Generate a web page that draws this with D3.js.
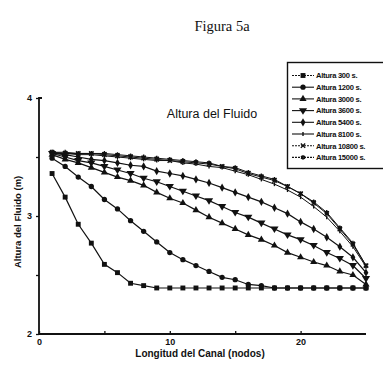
<!DOCTYPE html>
<html><head><meta charset="utf-8">
<script src="https://cdn.jsdelivr.net/npm/d3@7/dist/d3.min.js"></script>
<style>body{margin:0;background:#fff}svg{display:block}</style>
</head><body>
<script>
const nodes = d3.range(1, 26);
const seriesNames = ["Altura 300 s.","Altura 1200 s.","Altura 3000 s.","Altura 3600 s.","Altura 5400 s.","Altura 8100 s.","Altura 10800 s.","Altura 15000 s."];
const s300   = [3.36,3.16,2.93,2.77,2.59,2.52,2.43,2.41,2.39,2.39,2.39,2.39,2.39,2.39,2.39,2.39,2.39,2.39,2.39,2.39,2.39,2.39,2.39,2.39,2.39];
const s1200  = [3.49,3.42,3.33,3.25,3.14,3.06,2.96,2.87,2.78,2.69,2.63,2.58,2.53,2.48,2.46,2.42,2.41,2.39,2.39,2.39,2.39,2.39,2.39,2.39,2.39];
const s3000  = [3.52,3.48,3.45,3.41,3.37,3.33,3.30,3.26,3.20,3.15,3.11,3.05,2.99,2.94,2.89,2.84,2.80,2.75,2.69,2.65,2.61,2.58,2.53,2.50,2.42];
const s3600  = [3.53,3.50,3.47,3.45,3.42,3.39,3.36,3.32,3.29,3.25,3.21,3.17,3.13,3.08,3.03,2.99,2.94,2.89,2.84,2.80,2.75,2.69,2.64,2.58,2.47];
const s5400  = [3.53,3.52,3.50,3.48,3.47,3.45,3.43,3.42,3.38,3.36,3.34,3.31,3.28,3.24,3.20,3.16,3.12,3.07,3.02,2.95,2.89,2.82,2.74,2.65,2.52];
const s8100  = [3.53,3.53,3.52,3.52,3.51,3.50,3.49,3.48,3.47,3.47,3.45,3.44,3.42,3.41,3.38,3.35,3.31,3.27,3.22,3.16,3.08,2.99,2.87,2.74,2.57];
const s10800 = [3.54,3.53,3.53,3.53,3.52,3.51,3.50,3.49,3.48,3.47,3.46,3.45,3.44,3.42,3.40,3.36,3.33,3.30,3.25,3.19,3.11,3.02,2.89,2.76,2.58];
const s15000 = [3.54,3.54,3.53,3.53,3.53,3.52,3.51,3.50,3.49,3.48,3.47,3.46,3.45,3.42,3.41,3.37,3.34,3.31,3.25,3.19,3.12,3.03,2.90,2.77,2.58];
const allSeries = [s300,s1200,s3000,s3600,s5400,s8100,s10800,s15000];
const xTicks = [0,10,20];
const yTicks = [2,3,4];

const W = 383, H = 371;
const svg = d3.select("body").append("svg").attr("width", W).attr("height", H);
const x = d3.scaleLinear().domain([0,25]).range([39,366]);
const y = d3.scaleLinear().domain([2,4]).range([334,98]);
const ink = "#111";
const sans = "'Liberation Sans', Arial, sans-serif";

// title
svg.append("text").attr("x", 222).attr("y", 31).attr("text-anchor","middle")
  .attr("font-family","'Liberation Serif', 'Times New Roman', serif").attr("font-size",14.5)
  .attr("fill", ink).text("Figura 5a");

// axes
const gy = svg.append("g").attr("transform", `translate(${x(0)},0)`)
  .call(d3.axisLeft(y).tickValues([2,2.5,3,3.5,4]).tickSize(3).tickFormat(d => yTicks.includes(d) ? d : ""));
const gx = svg.append("g").attr("transform", `translate(0,${y(2)})`)
  .call(d3.axisBottom(x).tickValues([0,5,10,15,20]).tickSize(-3).tickFormat(d => xTicks.includes(d) ? d : ""));
[gx, gy].forEach(g => {
  g.select(".domain").attr("stroke", ink).attr("stroke-width", 1.8);
  g.selectAll(".tick line").attr("stroke", ink).attr("stroke-width", 1.3);
  g.selectAll(".tick text").attr("font-family", sans).attr("font-weight","bold").attr("font-size", 9).attr("fill", ink);
});
gy.select(".domain").attr("d", `M3,${y(4)}H0V${y(2)}`);
gy.selectAll(".tick text").attr("x", -7);
gx.select(".domain").attr("d", `M${x(0)},0H${x(25)}`);
gx.selectAll(".tick text").attr("y", 5);

// axis labels
svg.append("text").attr("transform", `translate(21,${y(2.95)}) rotate(-90)`).attr("text-anchor","middle")
  .attr("font-family", sans).attr("font-weight","bold").attr("font-size", 9.5).attr("fill", ink)
  .text("Altura del Fluido (m)");
svg.append("text").attr("x", 200).attr("y", 357).attr("text-anchor","middle")
  .attr("font-family", sans).attr("font-weight","bold").attr("font-size", 10).attr("fill", ink)
  .text("Longitud del Canal (nodos)");

// annotation
svg.append("text").attr("x", 212).attr("y", 118).attr("text-anchor","middle")
  .attr("font-family", sans).attr("font-size", 12.5).attr("fill", ink).text("Altura del Fluido");

// marker symbols
const sym = [
  d3.symbol().type(d3.symbolSquare).size(24),
  d3.symbol().type(d3.symbolCircle).size(22),
  d3.symbol().type(d3.symbolTriangle).size(22),
  d3.symbol().type({draw(ctx,s){const r=Math.sqrt(s/1.3);ctx.moveTo(-r,-r*0.6);ctx.lineTo(r,-r*0.6);ctx.lineTo(0,r);ctx.closePath();}}).size(22),
  d3.symbol().type(d3.symbolDiamond).size(20),
  d3.symbol().type({draw(ctx,s){const r=Math.sqrt(s)/2;ctx.moveTo(0,-r);ctx.lineTo(0,r);}}).size(16),
  d3.symbol().type(d3.symbolX).size(14),
  d3.symbol().type(d3.symbolAsterisk || d3.symbolCross).size(16)
];
function drawMarker(g, i, cx, cy) {
  const p = g.append("path").attr("d", sym[i]()).attr("transform", `translate(${cx},${cy})`);
  if (i >= 5) p.attr("fill","none").attr("stroke", ink).attr("stroke-width", 1.4);
  else p.attr("fill", ink);
}

const line = d3.line().x((d,i) => x(nodes[i])).y(d => y(d));
const plot = svg.append("g");
allSeries.forEach((s, i) => {
  plot.append("path").datum(s).attr("d", line).attr("fill","none")
    .attr("stroke", ink).attr("stroke-width", i >= 5 ? 1.0 : 1.2);
  s.forEach((v, j) => drawMarker(plot, i, x(nodes[j]), y(v)));
});

// legend
const lg = svg.append("g");
lg.append("rect").attr("x", 287.5).attr("y", 62.5).attr("width", 100).attr("height", 106)
  .attr("fill","#fff").attr("stroke", ink).attr("stroke-width", 1.4);
seriesNames.forEach((nm, i) => {
  const ly = 75.5 + i * 11.7;
  lg.append("line").attr("x1", 292).attr("x2", 314).attr("y1", ly).attr("y2", ly)
    .attr("stroke", ink).attr("stroke-width", 1.1).attr("stroke-dasharray", i===0||i>=6 ? "2,1" : null);
  drawMarker(lg, i, 303, ly);
  lg.append("text").attr("x", 316).attr("y", ly + 2.8).attr("font-family", sans).attr("font-weight","bold")
    .attr("font-size", 7.6).attr("letter-spacing", -0.3).attr("fill", ink).text(nm);
});
</script>
</body></html>
